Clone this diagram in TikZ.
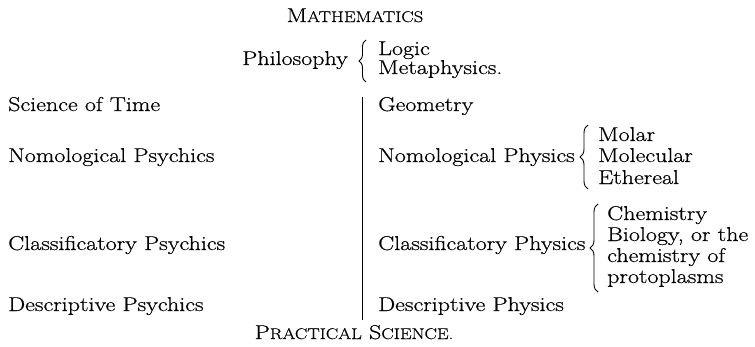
\documentclass[tikz,border=0pt]{standalone}
\usepackage{fontspec}
\setmainfont{Latin Modern Roman}[FakeStretch=1.2,FakeBold=0.6]
\usetikzlibrary{decorations.pathreplacing}
\newcommand\myfsc[1]{{\fontsize{15.5}{18}\selectfont #1}}
\begin{document}
\begin{tikzpicture}[x=1pt,y=1pt,
  txt/.style={anchor=base west,inner sep=0pt,font=\fontsize{20}{24}\selectfont},
  ctr/.style={anchor=base,inner sep=0pt,font=\fontsize{20}{24}\selectfont},
  brc/.style={decorate,decoration={brace,amplitude=#1},line width=0.9pt}]
\useasboundingbox (0,0) rectangle (755,-346);
\node[ctr] (math) at (355,-22) {M\myfsc{ATHEMATICS}};
\node[txt,anchor=base east] (phil) at (348,-65) {Philosophy};
\node[txt] (logic) at (378,-55) {Logic};
\node[txt] (meta) at (378,-74) {Metaphysics.};
\coordinate (pbt) at (366,-40);
\coordinate (pbb) at (366,-82);
\draw[brc=7pt] (pbb) -- (pbt);
\coordinate (vt) at (362,-97);
\coordinate (vb) at (362,-320);
\draw[line width=1pt] (vt) -- (vb);
\node[txt] (sot) at (8,-111) {Science of Time};
\node[txt] (geo) at (378,-111) {Geometry};
\node[txt] (nps) at (8,-162) {Nomological Psychics};
\node[txt] (nph) at (378,-162) {Nomological Physics};
\coordinate (nbt) at (588,-125);
\coordinate (nbb) at (588,-189);
\draw[brc=8pt] (nbb) -- (nbt);
\node[txt] (molar) at (598,-141) {Molar};
\node[txt] (molec) at (598,-162) {Molecular};
\node[txt] (eth) at (598,-184) {Ethereal};
\node[txt] (cps) at (8,-250) {Classificatory Psychics};
\node[txt] (cph) at (378,-250) {Classificatory Physics};
\coordinate (cbt) at (598,-204);
\coordinate (cbb) at (598,-292);
\draw[brc=8pt] (cbb) -- (cbt);
\node[txt] (chem) at (607,-220) {Chemistry};
\node[txt] (bio) at (607,-241) {Biology, or the};
\node[txt] (chof) at (607,-262) {chemistry of};
\node[txt] (proto) at (607,-283) {protoplasms};
\node[txt] (dps) at (8,-311) {Descriptive Psychics};
\node[txt] (dph) at (378,-311) {Descriptive Physics};
\node[ctr] (prac) at (354,-339) {P\myfsc{RACTICAL} S\myfsc{CIENCE.}};
\end{tikzpicture}
\end{document}
